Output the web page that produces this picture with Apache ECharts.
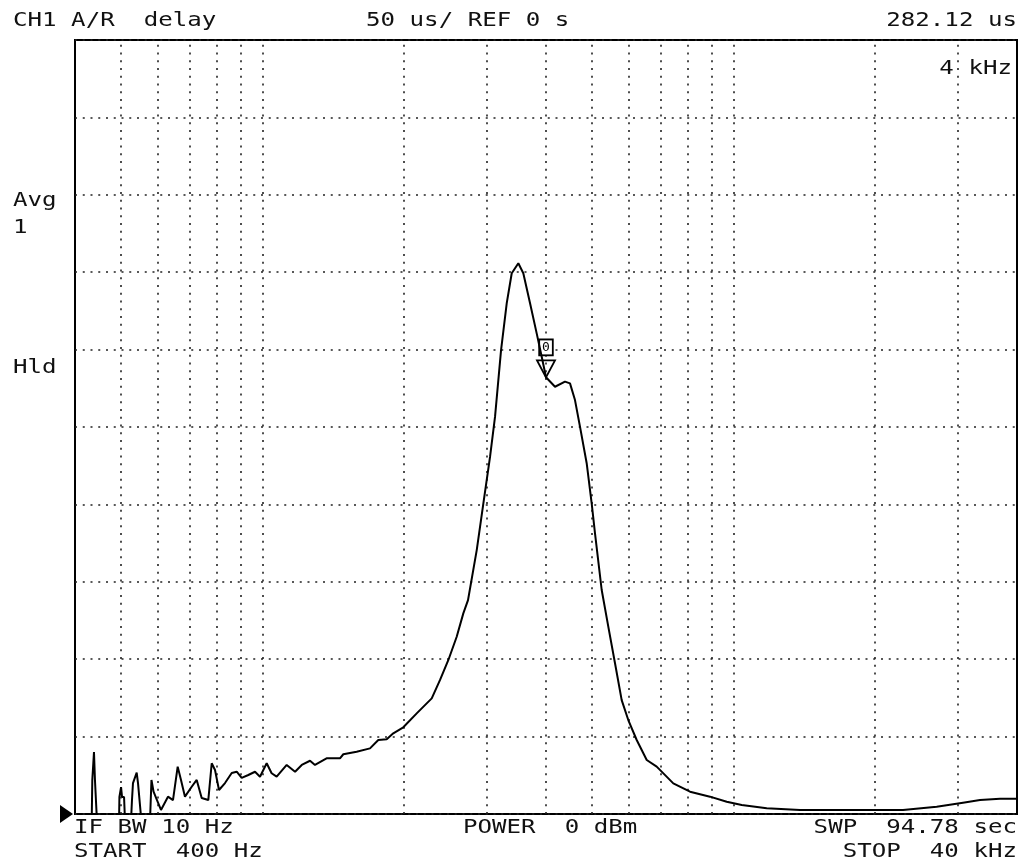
<!DOCTYPE html>
<html>
<head>
<meta charset="utf-8">
<script src="https://cdn.jsdelivr.net/npm/echarts@6/dist/echarts.min.js"></script>
<style>
html,body{margin:0;padding:0;background:#fff;}
#chart{width:1023px;height:863px;}
</style>
</head>
<body>
<div id="chart"></div>
<script>
// Frequency sweep points (Hz) and group delay (us)
const freqHz = [400, 434.0, 435.3, 438.9, 441.0, 444.7, 445.4,
  496.1, 497, 501, 503.4, 508.4, 510.9,
  525.9, 528.5, 531.1, 540.8, 544.3, 549.6, 553.6,
  577.1, 581.3, 587.3, 597.2, 609.0, 630.2, 645.8, 660.8, 671.6, 684.8, 707.6, 725.2, 743.1, 767.5,
  780.4, 793.1, 808.7, 832.8, 860.6, 881.8, 903.6, 933.3, 964.4, 988.2, 1021, 1046, 1072, 1126,
  1173, 1212, 1262, 1293, 1368, 1461, 1485, 1585, 1692, 1762, 1836, 1896, 1991, 2126, 2288, 2383,
  2482, 2585, 2670, 2732, 2851, 2945, 3043, 3118, 3211, 3301, 3383, 3494, 3580, 3700, 3822, 3917,
  4000, 4180, 4389, 4498, 4609, 4723, 4880, 5001, 5082, 5252, 5424, 5605, 5791, 5981, 6232, 6545,
  6872, 7453, 8088, 8918, 9677, 10414, 11767, 13847, 22912, 27010, 30720, 33385, 36820, 40000];
const delayUs = [-5, -5, 22, 40, 22, 22, -5,
  -5, 11, 17.4, 11, 11, -5,
  -5, 9, 20, 26.7, 20, 20, -5,
  -5, 22, 14.4, 9, 2.6, 11.2, 9, 30.6, 22, 11.2, 17.6, 22, 10.3, 9,
  32.8, 28.4, 15.5, 20, 26.5, 27.3, 23.3, 25.2, 27.3, 24.1, 32.8, 26.3, 24.1, 31.7,
  27.3, 31.7, 34.4, 31.7, 36, 36, 38.6, 40.2, 42.4, 47.8, 48.3, 52.1, 56, 65, 74.7, 86.6,
  99.5, 114.5, 129.6, 138.2, 170.5, 200.7, 230.8, 256.7, 299.7, 329.9, 349.3, 355.8, 349.3, 329.9, 310.5, 295.4,
  282.1, 276, 279.3, 278.2, 267.4, 250.2, 226.6, 200.7, 181.5, 144.7, 121, 97.4, 73.6, 60.7, 47.8, 34.9,
  30.6, 19.8, 14.4, 11.2, 7.9, 5.8, 3.7, 2.6, 2.6, 4.7, 7.3, 9, 9.9, 9.9];
// Vertical graticule frequencies (Hz)
const gridFreqs = [500, 600, 700, 800, 900, 1000, 2000, 3000, 4000, 5000, 6000, 7000, 8000, 9000, 10000, 20000, 30000];
// Marker
const markerFreq = 4000;
const markerValue = 282.12;
const markerLabel = '0';

const FONT = 'DejaVu Sans Mono';
const SX = 1.27;
function txt(x, y, s, align) {
  return {
    type: 'text', x: x, y: y, scaleX: SX, silent: true,
    style: { text: s, fill: '#111', font: '19px "' + FONT + '"', textAlign: align || 'left', textVerticalAlign: 'middle' }
  };
}

const chart = echarts.init(document.getElementById('chart'), null, { renderer: 'canvas' });
const dots = [2, 5.75];
chart.setOption({
  animation: false,
  backgroundColor: '#fff',
  grid: { left: 75, right: 6, top: 40, bottom: 49, show: true, borderColor: '#000', borderWidth: 2, backgroundColor: 'transparent' },
  xAxis: {
    type: 'log', logBase: 10, min: 400, max: 40000,
    axisLine: { show: false }, axisTick: { show: false }, axisLabel: { show: false }, splitLine: { show: false }
  },
  yAxis: {
    type: 'value', min: 0, max: 500, interval: 50,
    axisLine: { show: false }, axisTick: { show: false }, axisLabel: { show: false },
    splitLine: { show: true, lineStyle: { color: '#222', width: 1.6, type: dots } }
  },
  series: [{
    type: 'line',
    data: freqHz.map((f, i) => [f, delayUs[i]]),
    showSymbol: false,
    clip: true,
    lineStyle: { color: '#000', width: 2 },
    z: 5,
    markLine: {
      silent: true, symbol: 'none', label: { show: false },
      lineStyle: { color: '#222', width: 1.6, type: dots },
      data: gridFreqs.map(f => ({ xAxis: f }))
    },
    markPoint: {
      silent: true,
      data: [{ coord: [markerFreq, markerValue] }],
      symbol: 'triangle', symbolRotate: 180, symbolSize: [18, 17], symbolOffset: [0, -8.5],
      itemStyle: { color: 'rgba(0,0,0,0)', borderColor: '#000', borderWidth: 1.8 },
      label: {
        show: true, position: 'top', distance: 5, formatter: markerLabel,
        color: '#000', fontFamily: FONT, fontSize: 13, borderColor: '#000', borderWidth: 1.8,
        padding: [1, 2, 0, 2], backgroundColor: '#fff'
      }
    }
  }],
  graphic: [
    txt(13, 21, 'CH1 A/R  delay'),
    txt(366, 21, '50 us/ REF 0 s'),
    txt(1017, 21, '282.12 us', 'right'),
    txt(1012, 69, '4 kHz', 'right'),
    txt(13, 201, 'Avg'),
    txt(13, 228, '1'),
    txt(13, 368, 'Hld'),
    txt(74, 828, 'IF BW 10 Hz'),
    txt(74, 852, 'START  400 Hz'),
    txt(463, 828, 'POWER  0 dBm'),
    txt(1017, 828, 'SWP  94.78 sec', 'right'),
    txt(1017, 852, 'STOP  40 kHz', 'right'),
    { type: 'polygon', silent: true, shape: { points: [[60, 805], [73, 814], [60, 823]] }, style: { fill: '#000' } }
  ]
});
</script>
</body>
</html>
